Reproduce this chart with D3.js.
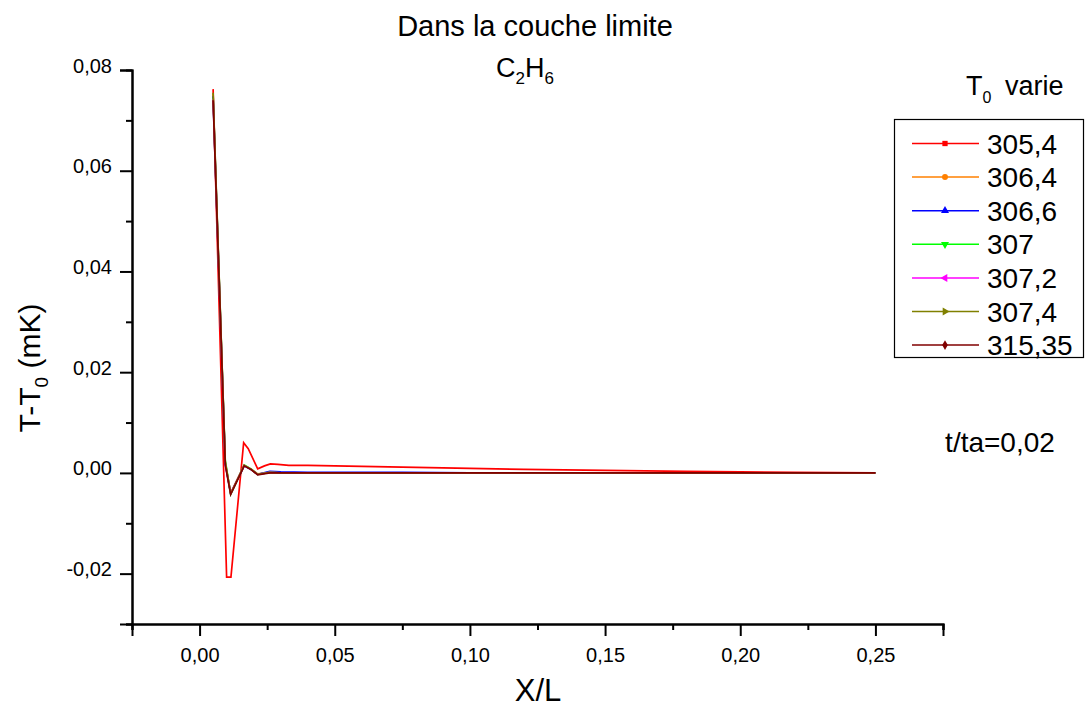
<!DOCTYPE html>
<html>
<head>
<meta charset="utf-8">
<script src="https://cdn.jsdelivr.net/npm/d3@7"></script>
<style>
  body { margin: 0; background: #fff; }
  text { font-family: "Liberation Sans", Arial, sans-serif; fill: #000; }
</style>
</head>
<body>
<div id="chart"></div>
<script>
// values
let seriesNames = ['305,4', '306,4', '306,6', '307', '307,2', '307,4', '315,35']
let seriesColors = ['#ff0000', '#ff8000', '#0000ff', '#00ff00', '#ff00ff', '#808000', '#800000']
let seriesSymbols = ['square', 'circle', 'up', 'down', 'left', 'right', 'diamond']

let redX = [0.005, 0.0100, 0.0116, 0.0163, 0.0180, 0.0215, 0.0240, 0.0262, 0.0290, 0.0330, 0.0400, 0.0600, 0.0800, 0.1000, 0.1200, 0.1500, 0.1800, 0.2000, 0.2200, 0.2500]
let redY = [0.0762, -0.0207, -0.0207, 0.0060, 0.0048, 0.0008, 0.0014, 0.0018, 0.0017, 0.0015, 0.0015, 0.0013, 0.0011, 0.0009, 0.0007, 0.0005, 0.0003, 0.0002, 0.0001, 0.0000]

let baseX = [0.005, 0.0095, 0.0115, 0.0165, 0.0190, 0.0215, 0.0260, 0.0300, 0.0400, 0.0500, 0.0600, 0.0750, 0.1000, 0.1500, 0.2000, 0.2500]
let orangeY = [0.0752, 0.0020, -0.0040, 0.0015, 0.0008, -0.0002, 0.0001, 0.0000, 0.0000, 0.0000, 0.0000, 0.0000, 0.0000, 0.0000, 0.0000, 0.0000]
let blueY = [0.0748, 0.0018, -0.0041, 0.0014, 0.0007, -0.0003, 0.0003, 0.0002, 0.0001, 0.0001, 0.0001, 0.0001, 0.0000, 0.0000, 0.0000, 0.0000]
let greenY = [0.0745, 0.0025, -0.0042, 0.0016, 0.0008, -0.0003, 0.0001, 0.0000, 0.0000, 0.0000, 0.0000, 0.0000, 0.0000, 0.0000, 0.0000, 0.0000]
let magentaY = [0.0743, 0.0019, -0.0040, 0.0015, 0.0007, -0.0003, 0.0001, 0.0000, 0.0000, 0.0000, 0.0000, 0.0000, 0.0000, 0.0000, 0.0000, 0.0000]
let oliveY = [0.0755, 0.0022, -0.0041, 0.0015, 0.0007, -0.0003, 0.0001, 0.0000, 0.0000, 0.0000, 0.0000, 0.0000, 0.0000, 0.0000, 0.0000, 0.0000]
let darkRedY = [0.0740, 0.0016, -0.0043, 0.0014, 0.0007, -0.0004, 0.0000, 0.0000, 0.0000, 0.0000, 0.0000, 0.0000, 0.0000, 0.0000, 0.0000, 0.0000]

let xTicks = [0, 0.05, 0.10, 0.15, 0.20, 0.25]
let xTickLabels = ['0,00', '0,05', '0,10', '0,15', '0,20', '0,25']
let yTicks = [-0.02, 0, 0.02, 0.04, 0.06, 0.08]
let yTickLabels = ['-0,02', '0,00', '0,02', '0,04', '0,06', '0,08']

let width = 1085
let height = 710

let svg = d3.select('#chart')
  .append('svg')
  .attr('width', width)
  .attr('height', height)

let x = d3.scaleLinear().domain([-0.025, 0.275]).range([132, 943])
let y = d3.scaleLinear().domain([-0.03, 0.08]).range([624, 70])

let ys = [redY, orangeY, blueY, greenY, magentaY, oliveY, darkRedY]
let series = ys.map((vals, i) => {
  let xs = i === 0 ? redX : baseX
  return vals.map((v, j) => [xs[j], v])
})

let line = d3.line().x(d => x(d[0])).y(d => y(d[1]))

// curves
svg.append('g')
  .selectAll('path')
  .data(series)
  .enter().append('path')
  .attr('d', line)
  .attr('fill', 'none')
  .attr('stroke', (d, i) => seriesColors[i])
  .attr('stroke-width', 1.7)

// x axis
let xAxis = svg.append('g').attr('transform', 'translate(0,' + y(-0.03) + ')')
xAxis.call(d3.axisBottom(x).tickValues(xTicks).tickFormat((d, i) => xTickLabels[i]).tickSize(12).tickPadding(12))
xAxis.append('g')
  .call(d3.axisBottom(x).tickValues([-0.025, 0.025, 0.075, 0.125, 0.175, 0.225, 0.275]).tickFormat('').tickSize(6))

// y axis
let yAxis = svg.append('g').attr('transform', 'translate(' + x(-0.025) + ',0)')
yAxis.call(d3.axisLeft(y).tickValues(yTicks).tickFormat((d, i) => yTickLabels[i]).tickSize(12).tickPadding(8))
yAxis.append('g')
  .call(d3.axisLeft(y).tickValues([-0.03, -0.01, 0.01, 0.03, 0.05, 0.07]).tickFormat('').tickSize(6))

svg.selectAll('.domain').attr('stroke', '#000').attr('stroke-width', 2)
svg.selectAll('.tick line').attr('stroke', '#000').attr('stroke-width', 2)
svg.selectAll('.tick text').style('font-size', '20px').style('font-family', '"Liberation Sans", Arial, sans-serif')
yAxis.selectAll('.tick text').attr('dy', '0.1em')

// titles
svg.append('text')
  .attr('x', 535).attr('y', 36)
  .attr('text-anchor', 'middle')
  .style('font-size', '29px')
  .text('Dans la couche limite')

let formula = svg.append('text')
  .attr('x', 525).attr('y', 77)
  .attr('text-anchor', 'middle')
  .style('font-size', '27px')
formula.append('tspan').text('C')
formula.append('tspan').attr('dy', 7).style('font-size', '17px').text('2')
formula.append('tspan').attr('dy', -7).text('H')
formula.append('tspan').attr('dy', 7).style('font-size', '17px').text('6')

svg.append('text')
  .attr('x', 538).attr('y', 701)
  .attr('text-anchor', 'middle')
  .style('font-size', '31px')
  .text('X/L')

let yLabel = svg.append('text')
  .attr('transform', 'translate(40,368) rotate(-90)')
  .attr('text-anchor', 'middle')
  .style('font-size', '30px')
yLabel.append('tspan').text('T-T')
yLabel.append('tspan').attr('dy', 8).style('font-size', '19px').text('0')
yLabel.append('tspan').attr('dy', -8).text(' (mK)')

let legTitle = svg.append('text')
  .attr('x', 966).attr('y', 95)
  .style('font-size', '27px')
legTitle.append('tspan').text('T')
legTitle.append('tspan').attr('dy', 8).style('font-size', '16px').text('0')
legTitle.append('tspan').attr('x', 1005).attr('dy', -8).text('varie')

svg.append('text')
  .attr('x', 1000).attr('y', 452)
  .attr('text-anchor', 'middle')
  .style('font-size', '28px')
  .text('t/ta=0,02')

// legend
let legend = svg.append('g')
legend.append('rect')
  .attr('x', 894.5).attr('y', 119.5)
  .attr('width', 189).attr('height', 238)
  .attr('fill', '#fff')
  .attr('stroke', '#000')
  .attr('stroke-width', 1.2)

let symbolTypes = {
  square: d3.symbolSquare,
  circle: d3.symbolCircle,
  up: d3.symbolTriangle,
  down: d3.symbolTriangle,
  left: d3.symbolTriangle,
  right: d3.symbolTriangle,
  diamond: d3.symbolDiamond
}
let symbolRot = { up: 0, down: 180, left: -90, right: 90 }

let rows = legend.selectAll('.row')
  .data(seriesNames)
  .enter().append('g')
  .attr('class', 'row')
  .attr('transform', (d, i) => 'translate(0,' + (143.5 + i * 33.6) + ')')

rows.append('line')
  .attr('x1', 912).attr('x2', 979)
  .attr('stroke', (d, i) => seriesColors[i])
  .attr('stroke-width', 1.5)

rows.append('path')
  .attr('d', (d, i) => d3.symbol().type(symbolTypes[seriesSymbols[i]]).size(28)())
  .attr('transform', (d, i) => 'translate(945,0) rotate(' + (symbolRot[seriesSymbols[i]] || 0) + ')')
  .attr('fill', (d, i) => seriesColors[i])

rows.append('text')
  .attr('x', 987).attr('y', 10)
  .style('font-size', '28px')
  .text(d => d)
</script>
</body>
</html>
